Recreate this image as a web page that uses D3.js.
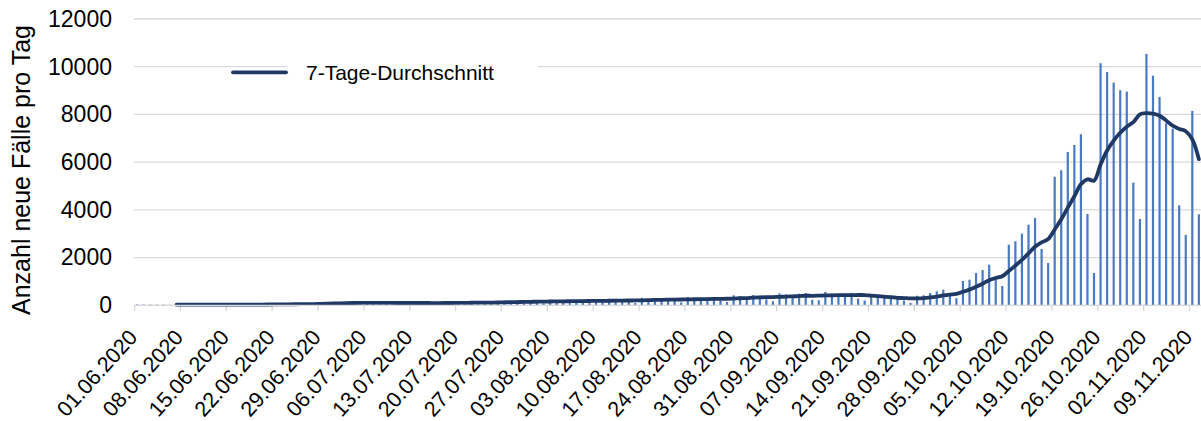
<!DOCTYPE html>
<html>
<head>
<meta charset="utf-8">
<script src="https://cdn.jsdelivr.net/npm/d3@7"></script>
<style>
  body { margin: 0; background: #fff; }
  svg { display: block; font-family: "Liberation Sans", Arial, sans-serif; }
</style>
</head>
<body>
<div class="cases-chart"></div>
<script>
// daily new cases, 01.06.2020 - 10.11.2020 (one value per day)
const startDate = "01.06.2020";
const dailyCases = [
    35, 30, 28, 25, 30, 18, 12,
    40, 30, 25, 28, 30, 20, 15,
    45, 35, 30, 35, 40, 25, 18,
    60, 55, 50, 60, 70, 45, 30,
    120, 110, 100, 110, 120, 80, 50,
    130, 110, 100, 105, 110, 70, 45,
    130, 110, 100, 100, 110, 80, 50,
    150, 130, 120, 130, 140, 90, 60,
    200, 170, 160, 170, 180, 120, 80,
    230, 200, 190, 200, 210, 140, 90,
    260, 220, 210, 230, 240, 160, 100,
    310, 270, 260, 270, 290, 190, 120,
    350, 300, 290, 300, 330, 210, 140,
    420, 380, 350, 430, 400, 250, 170,
    500, 450, 430, 486, 516, 235, 210,
    560, 500, 470, 480, 520, 280, 200,
    380, 340, 320, 330, 350, 200, 100,
    400, 419, 516, 587, 654, 450, 300,
    1019, 1073, 1354, 1480, 1703, 1090, 809,
    2541, 2683, 3002, 3380, 3660, 2360, 1773,
    5392, 5660, 6428, 6721, 7170, 3828, 1354,
    10147, 9782, 9334, 9015, 8956, 5141, 3618,
    10537, 9627, 8734, 7631, 7405, 4193, 2948,
    8147, 3815
];

// 7-Tage-Durchschnitt, starting 07.06.2020
const avgStart = "07.06.2020";
const avg7 = [
    25, 26, 26, 26, 26, 26, 26, 27,
    28, 28, 29, 30, 31, 32, 33,
    35, 38, 40, 44, 48, 51, 53,
    61, 69, 76, 84, 91, 96, 99,
    100, 100, 100, 99, 98, 96, 96,
    96, 96, 96, 95, 95, 96, 97,
    100, 103, 106, 110, 114, 116, 117,
    124, 130, 136, 141, 147, 151, 154,
    159, 163, 167, 171, 176, 179, 180,
    184, 187, 190, 194, 199, 201, 203,
    210, 217, 224, 230, 237, 241, 244,
    250, 254, 259, 263, 269, 271, 274,
    284, 296, 304, 323, 333, 339, 343,
    354, 364, 376, 384, 400, 398, 404,
    412, 420, 425, 424, 425, 431, 430,
    404, 381, 360, 339, 314, 303, 289,
    291, 303, 331, 367, 411, 447, 475,
    564, 657, 777, 904, 1054, 1146, 1218,
    1436, 1666, 1901, 2173, 2452, 2634, 2771,
    3179, 3604, 4093, 4571, 5072, 5282, 5222,
    5901, 6490, 6905, 7233, 7488, 7676, 7999,
    8055, 8033, 7947, 7749, 7528, 7392, 7296,
    6955, 6125
];

const tickLabels = [
    "01.06.2020", "08.06.2020", "15.06.2020", "22.06.2020", "29.06.2020",
    "06.07.2020", "13.07.2020", "20.07.2020", "27.07.2020", "03.08.2020",
    "10.08.2020", "17.08.2020", "24.08.2020", "31.08.2020", "07.09.2020",
    "14.09.2020", "21.09.2020", "28.09.2020", "05.10.2020", "12.10.2020",
    "19.10.2020", "26.10.2020", "02.11.2020", "09.11.2020"
];
const yTicks = [0, 2000, 4000, 6000, 8000, 10000, 12000];
const yTitle = "Anzahl neue Fälle pro Tag";
const legendLabel = "7-Tage-Durchschnitt";

const width = 1201;
const height = 421;
const margin = ({top: 19, left: 134, bottom: 305.3});
const dayWidth = 6.553;

const parseDate = d3.utcParse("%d.%m.%Y");
const start = parseDate(startDate);
const end = d3.utcDay.offset(start, 165);

const bars = dailyCases.map((v, i) => ({date: d3.utcDay.offset(start, i), value: v}));
const avgFirst = parseDate(avgStart);
const avgData = avg7.map((v, i) => ({date: d3.utcDay.offset(avgFirst, i), value: v}));

const x = d3.scaleUtc()
    .domain([start, end])
    .range([margin.left, margin.left + 165 * dayWidth]);

const y = d3.scaleLinear()
    .domain([0, 12000])
    .range([margin.bottom, margin.top]);

const mid = d => d3.utcHour.offset(d, 12);

const svg = d3.select(".cases-chart").append("svg")
    .attr("width", width)
    .attr("height", height)
    .attr("viewBox", `0 0 ${width} ${height}`);

// gridlines
svg.append("g")
    .selectAll("line")
    .data(yTicks)
    .join("line")
    .attr("x1", margin.left)
    .attr("x2", width + 10)
    .attr("y1", d => y(d))
    .attr("y2", d => y(d))
    .attr("stroke", "#d9d9d9")
    .attr("stroke-width", 1.3);

// y axis labels
const yAxis = g => g
    .attr("transform", `translate(${margin.left - 22},0)`)
    .call(d3.axisLeft(y).tickValues(yTicks).tickSize(0).tickPadding(0).tickFormat(d3.format("d")))
    .call(g => g.select(".domain").remove())
    .call(g => g.selectAll("text")
        .attr("font-size", 23)
        .attr("fill", "#000")
        .attr("font-family", "Liberation Sans, Arial, sans-serif"));

svg.append("g").call(yAxis);

// x axis
const tickDates = tickLabels.map(parseDate);
const xAxis = g => g
    .attr("transform", `translate(0,${margin.bottom})`)
    .call(d3.axisBottom(x).tickValues(tickDates).tickSize(6).tickFormat(d3.utcFormat("%d.%m.%Y")))
    .call(g => g.select(".domain").remove())
    .call(g => g.selectAll(".tick line").attr("stroke", "#d9d9d9").attr("stroke-width", 1.3))
    .call(g => g.selectAll("text")
        .attr("font-size", 21.5)
        .attr("fill", "#000")
        .attr("font-family", "Liberation Sans, Arial, sans-serif")
        .attr("text-anchor", "end")
        .attr("dy", 0)
        .attr("y", 0)
        .attr("transform", "translate(4,32.7) rotate(-48)"));

svg.append("g").call(xAxis);

// bars
svg.append("g")
    .selectAll("rect")
    .data(bars)
    .join("rect")
    .attr("x", d => x(mid(d.date)) - 1.1)
    .attr("width", 2.2)
    .attr("y", d => y(d.value))
    .attr("height", d => y(0) - y(d.value))
    .attr("fill", "#4a7bc2");

// 7-day average line
const avgLine = d3.line()
    .x(d => x(mid(d.date)))
    .y(d => y(d.value))
    .curve(d3.curveCatmullRom.alpha(0.5));

svg.append("path")
    .datum(avgData)
    .attr("fill", "none")
    .attr("stroke", "#1f3864")
    .attr("stroke-width", 3.8)
    .attr("stroke-linejoin", "round")
    .attr("stroke-linecap", "round")
    .attr("d", avgLine);

// axis line at 0
svg.append("line")
    .attr("x1", margin.left)
    .attr("x2", width + 10)
    .attr("y1", y(0))
    .attr("y2", y(0))
    .attr("stroke", "#d9d9d9")
    .attr("stroke-width", 1.3);

// legend
svg.append("rect")
    .attr("x", 288)
    .attr("y", 56)
    .attr("width", 250)
    .attr("height", 34)
    .attr("fill", "#fff");

svg.append("line")
    .attr("x1", 233)
    .attr("x2", 286)
    .attr("y1", 72.3)
    .attr("y2", 72.3)
    .attr("stroke", "#1f3864")
    .attr("stroke-width", 3.8)
    .attr("stroke-linecap", "round");

svg.append("text")
    .attr("x", 306)
    .attr("y", 80)
    .attr("font-size", 21)
    .attr("fill", "#000")
    .text(legendLabel);

// y title
svg.append("text")
    .attr("transform", "translate(30,170) rotate(-90)")
    .attr("text-anchor", "middle")
    .attr("font-size", 25)
    .attr("fill", "#000")
    .text(yTitle);
</script>
</body>
</html>
